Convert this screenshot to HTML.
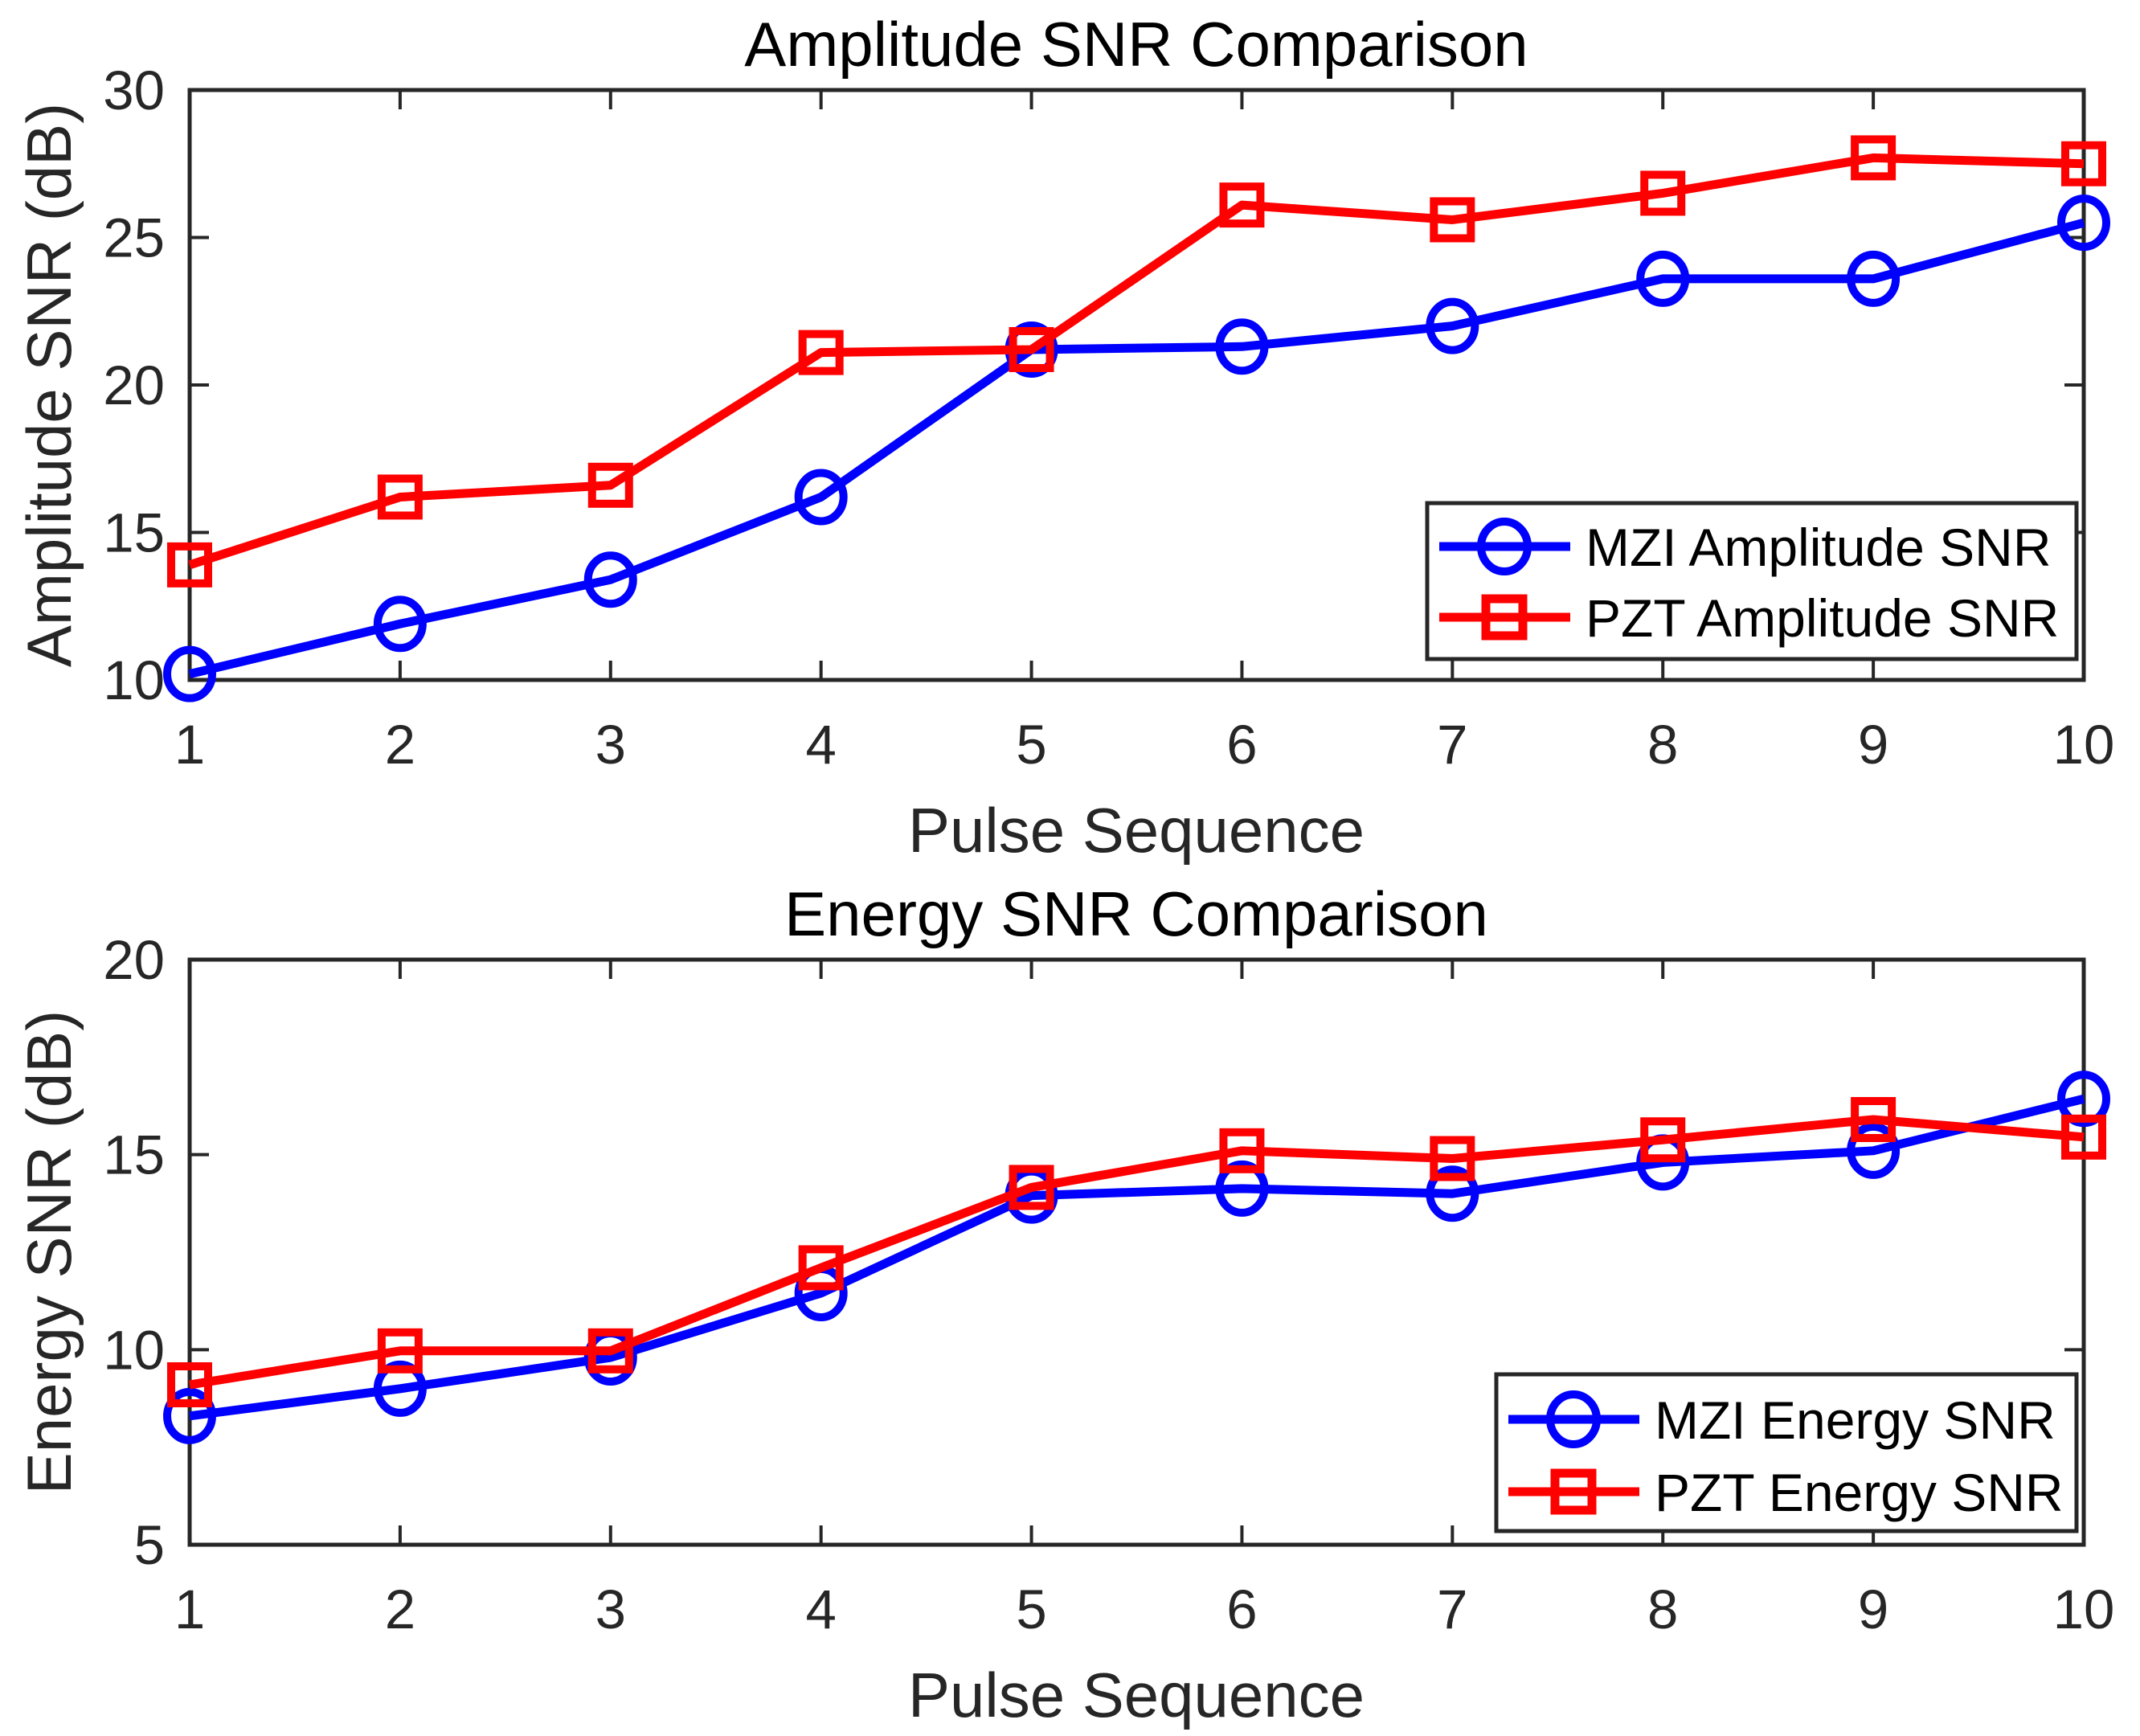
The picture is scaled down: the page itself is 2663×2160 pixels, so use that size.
<!DOCTYPE html>
<html><head><meta charset="utf-8"><style>
html,body{margin:0;padding:0;background:#fff;}
svg{display:block;font-family:"Liberation Sans",Arial,sans-serif;}
</style></head><body>
<svg id="fig" width="2663" height="2160" viewBox="0 0 2663 2160" xmlns="http://www.w3.org/2000/svg"></svg>
<script>
const categories = [1,2,3,4,5,6,7,8,9,10];
const ampMZI = [10.2,11.9,13.4,16.2,21.2,21.3,22.0,23.6,23.6,25.5];
const ampPZT = [13.9,16.2,16.6,21.1,21.2,26.1,25.6,26.5,27.7,27.5];
const engMZI = [8.3,9.0,9.8,11.45,13.95,14.13,14.0,14.8,15.1,16.43];
const engPZT = [9.1,9.97,9.97,12.1,14.16,15.1,14.9,15.38,15.9,15.45];
const ampTicks = [10,15,20,25,30];
const engTicks = [5,10,15,20];

const NS="http://www.w3.org/2000/svg";
const svg=document.getElementById('fig');
function mk(tag,attrs,parent){const e=document.createElementNS(NS,tag);for(const k in attrs)e.setAttribute(k,attrs[k]);(parent||svg).appendChild(e);return e;}

function panel(cfg){
  const g=mk('g',{});
  
  
  const L=236,R=2593,T=cfg.top,B=cfg.bottom;
  const xs=v=>L+(v-1)/9*(R-L);
  const ys=v=>B-(v-cfg.ymin)/(cfg.ymax-cfg.ymin)*(B-T);
  const t=mk('text',{x:1414,y:cfg.titleY,'text-anchor':'middle','font-size':78,fill:'#000'},g);
  t.textContent=cfg.title;
  
  
  categories.forEach(c=>{
    const x=xs(c);
    mk('line',{x1:x,x2:x,y1:B,y2:B-24,stroke:'#262626','stroke-width':4},g);
    mk('line',{x1:x,x2:x,y1:T,y2:T+24,stroke:'#262626','stroke-width':4},g);
    const tl=mk('text',{x:x,y:B+104,'text-anchor':'middle','font-size':69,fill:'#262626'},g);
    tl.textContent=c;
    
    
  });
  cfg.ticks.forEach(v=>{
    const y=ys(v);
    mk('line',{x1:L,x2:L+24,y1:y,y2:y,stroke:'#262626','stroke-width':4},g);
    mk('line',{x1:R,x2:R-24,y1:y,y2:y,stroke:'#262626','stroke-width':4},g);
    const tl=mk('text',{x:205,y:y+24,'text-anchor':'end','font-size':69,fill:'#262626'},g);
    tl.textContent=v;
    
    
  });
  const box=mk('rect',{x:L,y:T,width:R-L,height:B-T,fill:'none',stroke:'#262626','stroke-width':5},g);
  
  
  const xl=mk('text',{x:1414,y:B+214,'text-anchor':'middle','font-size':78,fill:'#262626'},g);
  xl.textContent='Pulse Sequence';
  
  
  const cy=(T+B)/2;
  const yl=mk('text',{x:0,y:0,'text-anchor':'middle','font-size':78,fill:'#262626',transform:`translate(88,${cy}) rotate(-90)`},g);
  yl.textContent=cfg.ylabel;
  
  
  function series(vals,color,marker,name){
    const sg=mk('g',{},g);
    
    
    const pts=vals.map((v,i)=>xs(categories[i])+','+ys(v)).join(' ');
    mk('polyline',{points:pts,fill:'none',stroke:color,'stroke-width':11,'stroke-linejoin':'round'},sg);
    vals.forEach((v,i)=>{
      const x=xs(categories[i]),y=ys(v);
      let m;
      if(marker==='o') m=mk('ellipse',{cx:x,cy:y,rx:28,ry:30,fill:'none',stroke:color,'stroke-width':10},sg);
      else m=mk('rect',{x:x-23,y:y-23,width:46,height:46,fill:'none',stroke:color,'stroke-width':10},sg);
      
      
    });
  }
  series(cfg.s1,'#0000ff','o',cfg.n1.toLowerCase().replace(/ /g,'-'));
  series(cfg.s2,'#ff0000','s',cfg.n2.toLowerCase().replace(/ /g,'-'));
  const lg=mk('g',{},g);
  
  
  const Lx=cfg.leg.x,Ly=cfg.leg.y,Lw=2584-cfg.leg.x,Lh=cfg.leg.h;
  mk('rect',{x:Lx,y:Ly,width:Lw,height:Lh,fill:'#fff',stroke:'#262626','stroke-width':5},lg);
  [[cfg.n1,'#0000ff','o',cfg.leg.r1],[cfg.n2,'#ff0000','s',cfg.leg.r2]].forEach(([txt,col,mkr,ry])=>{
    const eg=mk('g',{},lg);
    
    
    const x0=Lx+15,x1=Lx+178,xm=Lx+96;
    mk('line',{x1:x0,x2:x1,y1:ry,y2:ry,stroke:col,'stroke-width':11},eg);
    if(mkr==='o') mk('ellipse',{cx:xm,cy:ry,rx:29,ry:31,fill:'none',stroke:col,'stroke-width':10},eg);
    else mk('rect',{x:xm-23,y:ry-23,width:46,height:46,fill:'none',stroke:col,'stroke-width':11},eg);
    const tt=mk('text',{x:Lx+197,y:ry+24,'font-size':66,fill:'#000'},eg);
    tt.textContent=txt;
  });
}
panel({name:'amplitude-panel',top:112,bottom:846,ymin:10,ymax:30,ticks:ampTicks,titleY:82,
  title:'Amplitude SNR Comparison',ylabel:'Amplitude SNR (dB)',s1:ampMZI,s2:ampPZT,
  n1:'MZI Amplitude SNR',n2:'PZT Amplitude SNR',leg:{x:1776,y:626,h:194,r1:680,r2:768}});
panel({name:'energy-panel',top:1194,bottom:1922,ymin:5,ymax:20,ticks:engTicks,titleY:1164,
  title:'Energy SNR Comparison',ylabel:'Energy SNR (dB)',s1:engMZI,s2:engPZT,
  n1:'MZI Energy SNR',n2:'PZT Energy SNR',leg:{x:1862,y:1710,h:195,r1:1766,r2:1856}});
</script>
</body></html>
